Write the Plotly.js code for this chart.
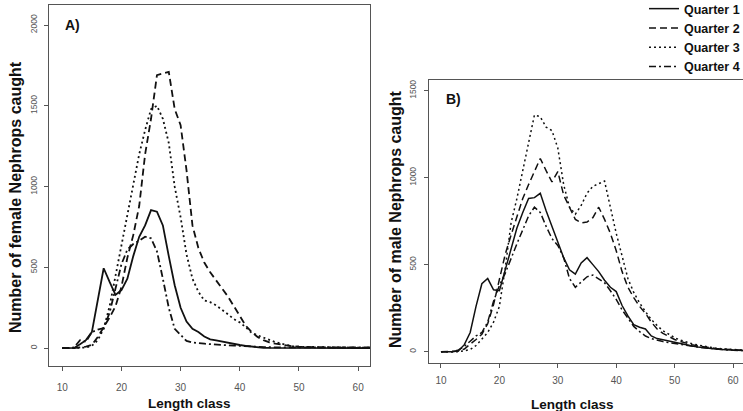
<!DOCTYPE html>
<html>
<head>
<meta charset="utf-8">
<script src="https://cdn.plot.ly/plotly-3.0.1.min.js"></script>
<style>html,body{margin:0;padding:0;background:#fff;}#chart{width:743px;height:411px;}</style>
</head>
<body>
<div id="chart"></div>
<script>
// Length classes 10..62
var lengthClass = [];
for (var L = 10; L <= 62; L++) lengthClass.push(L);

var seriesNames = ["Quarter 1", "Quarter 2", "Quarter 3", "Quarter 4"];

// Panel A: females
var femaleQ1 = [0,0,2,25,50,100,290,495,410,330,360,430,570,690,760,855,845,760,570,390,250,165,120,100,72,55,48,40,32,25,20,14,9,5,3,2,2,1,1,0,0,0,0,0,0,0,0,0,0,0,0,0,0];
var femaleQ2 = [0,0,0,5,10,20,70,130,190,260,380,560,700,880,1200,1420,1690,1700,1710,1480,1380,1100,760,620,530,470,420,370,320,260,200,140,100,70,50,36,28,22,16,12,9,7,6,5,5,4,4,3,3,3,2,2,2];
var femaleQ3 = [0,0,0,2,5,15,50,120,260,450,620,820,1020,1200,1350,1480,1500,1420,1270,1000,810,580,430,350,295,285,265,240,210,180,160,130,95,80,65,50,38,28,18,12,9,8,7,6,6,5,5,5,4,4,4,3,3];
var femaleQ4 = [0,0,5,50,40,100,115,125,220,380,520,610,645,665,690,680,600,430,250,120,80,45,35,30,28,25,22,20,18,16,15,12,10,8,7,6,5,5,5,5,5,5,5,5,5,5,5,5,5,5,5,5,5];

// Panel B: males
var maleQ1 = [0,0,0,5,40,110,260,390,420,355,350,470,590,710,800,880,885,910,810,720,630,540,470,445,510,540,500,460,410,370,345,265,205,155,140,130,90,75,68,60,52,46,40,32,27,22,18,15,12,10,8,7,6];
var maleQ2 = [0,0,0,3,15,40,70,100,160,270,420,560,670,780,880,960,1040,1110,1040,975,1035,900,830,760,740,745,770,830,760,680,580,460,370,310,260,220,170,130,105,85,70,58,48,40,33,27,22,18,15,12,10,8,7];
var maleQ3 = [0,0,0,0,5,12,35,70,110,170,260,480,740,880,1050,1200,1360,1350,1290,1270,1170,960,830,790,840,910,950,965,980,830,680,550,420,340,280,230,185,150,120,100,80,66,55,45,38,31,25,20,17,14,11,9,8];
var maleQ4 = [0,0,0,10,30,60,90,110,170,290,380,450,540,620,700,780,830,800,720,650,610,540,420,370,400,430,440,420,395,350,300,240,190,145,115,90,75,65,58,52,46,40,35,30,26,22,18,15,12,10,8,7,6];

var xTicks = [10, 20, 30, 40, 50, 60];
var yTicksA = [0, 500, 1000, 1500, 2000];
var yTicksB = [0, 500, 1000, 1500];

var W = 743, H = 411;
function px(x) { return x / W; }
function py(y) { return 1 - y / H; }

var FONT = "Liberation Sans, Arial, sans-serif";
var dashes = ["solid", "7px,4px", "2px,3px", "7px,3px,2px,3px"];
var femaleData = [femaleQ1, femaleQ2, femaleQ3, femaleQ4];
var maleData = [maleQ1, maleQ2, maleQ3, maleQ4];

var traces = [];
for (var i = 0; i < 4; i++) {
  traces.push({
    x: lengthClass, y: femaleData[i], type: "scatter", mode: "lines",
    xaxis: "x", yaxis: "y", name: seriesNames[i], showlegend: false,
    line: {color: "#111", width: 1.8, dash: dashes[i]}
  });
}
for (var j = 0; j < 4; j++) {
  traces.push({
    x: lengthClass, y: maleData[j], type: "scatter", mode: "lines",
    xaxis: "x2", yaxis: "y2", name: seriesNames[j], showlegend: true,
    line: {color: "#111", width: 1.5, dash: dashes[j]}
  });
}

var axisCommon = {
  showgrid: false, zeroline: false, showline: true, linecolor: "#555", linewidth: 1,
  ticks: "outside", ticklen: 4, tickcolor: "#555", tickwidth: 1,
  tickfont: {family: FONT, size: 10, color: "#555"}, tickmode: "array"
};
function ax(extra) { var o = {}; for (var k in axisCommon) o[k] = axisCommon[k]; for (var k2 in extra) o[k2] = extra[k2]; return o; }

var layout = {
  width: W, height: H,
  margin: {l: 0, r: 0, t: 0, b: 0, pad: 0, autoexpand: false},
  paper_bgcolor: "#fff", plot_bgcolor: "#fff",
  xaxis: ax({domain: [px(49), px(370)], range: [7.76, 62], tickvals: xTicks, mirror: true, anchor: "y", ticklabelstandoff: 8}),
  yaxis: ax({domain: [py(366), py(5)], range: [-110, 2124], tickvals: yTicksA, mirror: true, anchor: "x", tickangle: -90,
             tickfont: {family: FONT, size: 8.5, color: "#555"}, ticklabelstandoff: 4}),
  xaxis2: ax({domain: [px(428.7), 1], range: [7.9, 61.7], tickvals: xTicks, mirror: true, anchor: "y2", ticklabelstandoff: 4}),
  yaxis2: ax({domain: [py(363.3), py(80)], range: [-67, 1561], tickvals: yTicksB, mirror: false, anchor: "x2", tickangle: -90,
              tickfont: {family: FONT, size: 8.5, color: "#555"}, ticklabelstandoff: 4}),
  showlegend: true,
  legend: {
    x: px(644), y: py(-6), xanchor: "left", yanchor: "top", xref: "paper", yref: "paper",
    bgcolor: "rgba(0,0,0,0)", borderwidth: 0, itemwidth: 30, tracegroupgap: 0,
    font: {family: FONT, size: 12.5, color: "#111", weight: "bold"}
  },
  annotations: [
    {text: "<b>A)</b>", x: px(63), y: py(25), xref: "paper", yref: "paper", xanchor: "left", yanchor: "middle",
     showarrow: false, font: {family: FONT, size: 14, color: "#111"}},
    {text: "<b>B)</b>", x: px(444), y: py(99), xref: "paper", yref: "paper", xanchor: "left", yanchor: "middle",
     showarrow: false, font: {family: FONT, size: 14, color: "#111"}},
    {text: "<b>Length class</b>", x: px(189), y: py(403), xref: "paper", yref: "paper", xanchor: "center", yanchor: "middle",
     showarrow: false, font: {family: FONT, size: 13.5, color: "#111"}},
    {text: "<b>Length class</b>", x: px(572), y: py(404), xref: "paper", yref: "paper", xanchor: "center", yanchor: "middle",
     showarrow: false, font: {family: FONT, size: 13.5, color: "#111"}},
    {text: "<b>Number of female Nephrops caught</b>", x: px(15), y: py(197), xref: "paper", yref: "paper", xanchor: "center", yanchor: "middle",
     textangle: -90, showarrow: false, font: {family: FONT, size: 16, color: "#111"}},
    {text: "<b>Number of male Nephrops caught</b>", x: px(395), y: py(219), xref: "paper", yref: "paper", xanchor: "center", yanchor: "middle",
     textangle: -90, showarrow: false, font: {family: FONT, size: 16, color: "#111"}}
  ]
};

Plotly.newPlot("chart", traces, layout, {staticPlot: true, displayModeBar: false});
</script>
</body>
</html>
